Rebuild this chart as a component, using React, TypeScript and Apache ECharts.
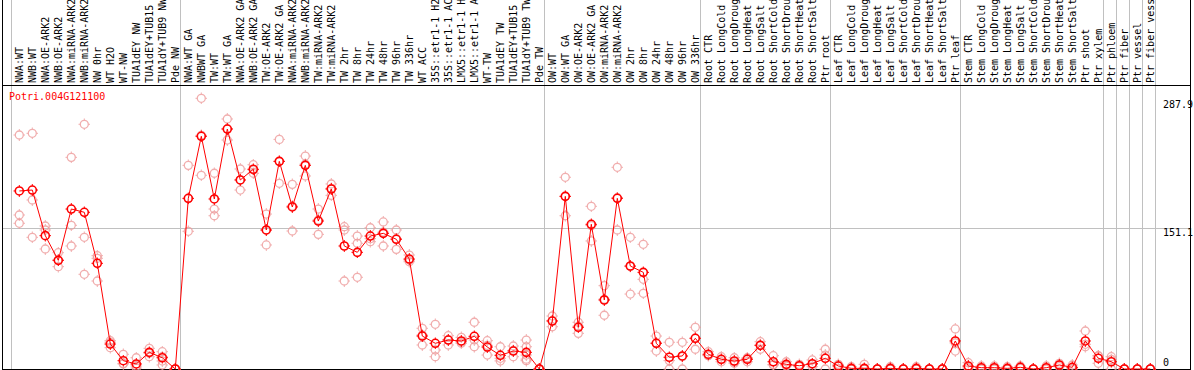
import React, { useEffect, useRef } from "react";
import * as echarts from "echarts";

const geneId = "Potri.004G121100";

const categories = [
  "NWA:WT", "NWB:WT", "NWA:OE-ARK2", "NWB:OE-ARK2", "NWA:miRNA-ARK2", "NWB:miRNA-ARK2", "NW 0hr", "WT H2O", "WT-NW", "TUA1dEY NW", "TUA1dEY+TUB15 NW", "TUA1dY+TUB9 NW", "Pde NW",
  "NWA:WT GA", "NWBWT GA", "TW:WT", "TW:WT GA", "NWA:OE-ARK2 GA", "NWB:OE-ARK2 GA", "TW:OE-ARK2", "TW:OE-ARK2 GA", "NWA:miRNA-ARK2 GA", "NWB:miRNA-ARK2 GA", "TW:miRNA-ARK2", "TW:miRNA-ARK2 GA",
  "TW 2hr", "TW 8hr", "TW 24hr", "TW 48hr", "TW 96hr", "TW 336hr", "WT ACC", "35S::etr1-1 H2O", "35S::etr1-1 ACC", "LMX5::etr1-1 H2O", "LMX5::etr1-1 ACC", "WT-TW", "TUA1dEY TW", "TUA1dEY+TUB15 TW", "TUA1dY+TUB9 TW", "Pde TW",
  "OW:WT", "OW:WT GA", "OW:OE-ARK2", "OW:OE-ARK2 GA", "OW:miRNA-ARK2", "OW:miRNA-ARK2 GA", "OW 2hr", "OW 8hr", "OW 24hr", "OW 48hr", "OW 96hr", "OW 336hr",
  "Root CTR", "Root LongCold", "Root LongDrought", "Root LongHeat", "Root LongSalt", "Root ShortCold", "Root ShortDrought", "Root ShortHeat", "Root ShortSalt", "Ptr root",
  "Leaf CTR", "Leaf LongCold", "Leaf LongDrought", "Leaf LongHeat", "Leaf LongSalt", "Leaf ShortCold", "Leaf ShortDrought", "Leaf ShortHeat", "Leaf ShortSalt", "Ptr leaf",
  "Stem CTR", "Stem LongCold", "Stem LongDrought", "Stem LongHeat", "Stem LongSalt", "Stem ShortCold", "Stem ShortDrought", "Stem ShortHeat", "Stem ShortSalt", "Ptr shoot", "Ptr xylem",
  "Ptr phloem", "Ptr fiber", "Ptr vessel", "Ptr fiber vessel",
];

const meanValues = [
  191.2, 192.2, 143.2, 116.7, 171.8, 168.3, 113.5, 26.8, 8.9, 5.4, 17.9, 12.1, 0,
  183.3, 249.9, 182.6, 257.7, 203, 214.5, 149.3, 223, 174, 218.7, 158.9, 193.3,
  132.1, 125.3, 142.8, 145.7, 139.3, 118.1, 35.4, 27.6, 31.1, 30.1, 35.1, 23.6, 14.7, 19.3, 17.9, 0,
  51.5, 185.4, 44.8, 155.4, 74.1, 183.3, 110.6, 103.8, 27.6, 12.6, 14, 33,
  15.8, 10.4, 8.6, 10.4, 25.4, 7.8, 5, 3.5, 5.7, 11.5,
  3.2, 0.7, 0.7, 0, 0.7, 0, 0.7, 0, 0, 30.1,
  3.2, 1.4, 1.4, 0.7, 1.8, 0, 1.4, 4.3, 1.8, 30.1, 11.5,
  7.8, 0, 0, 0,
];

const replicateValues: number[][] = [
  [251.3, 165.4, 156.5], [253.1, 181.5, 141.4], [153.6, 149.3, 128.9], [124.9, 117.1, 109.9],
  [227.3, 154.3, 132.1], [262.8, 141.4, 101.7], [121.7, 118.9, 94.5], [30.4, 28.7, 22.9],
  [15.8, 5.4, 6], [12.1, 3.2, 1], [22.2, 16.9, 13.2], [18.6, 13.2, 8.6, 4.3], [0, 0, 0],
  [218.7, 183, 147.9], [290.7, 251, 208], [210.2, 171.8, 164.6], [268.5, 258, 245.9],
  [214.8, 203, 192.2], [219.4, 214, 210.2], [166.4, 149, 133.2], [246.6, 223, 199.4],
  [198.3, 175, 148.2], [228.7, 220, 207.3], [171.8, 160, 144.6], [198.7, 194, 186.5],
  [152.8, 149.3, 94.5], [142.8, 135, 98.5], [151.7, 140, 136.7], [157.9, 147, 132.1],
  [149.3, 140, 128.5], [122.4, 117, 115.2], [43.7, 36.5, 25.8], [48, 20.4, 13.2],
  [35.8, 31.5, 25.8], [34, 29, 27.6], [50.2, 31.2, 23.9], [30.4, 25.4, 15.0],
  [23.9, 11.5, 8.7], [24.7, 20, 13.2], [31.1, 23.9, 15, 8.9, 10.6], [0, 0, 0],
  [56.9, 52, 45.4], [205.9, 185.5, 164.6], [50.2, 46, 38.3], [174.7, 154, 137.5],
  [89.5, 75, 57.7], [216.6, 184, 149.3], [141.4, 110, 80.5], [133.9, 96.3, 81.3],
  [35.4, 28, 19.3], [28.7, 9, 0], [28.7, 13.3, 0], [44.8, 33, 21.2],
  [18.6, 14.5, 14.3], [13.2, 10.2, 7.8], [12.1, 7.6, 6.1], [12.1, 11.3, 7.8], [29.3, 25.7, 21.2],
  [14.3, 4.8, 4.3], [7.8, 4, 3.2], [5, 3, 2.5], [9.7, 5, 2.5], [21.2, 15, 0],
  [5, 3.9, 0.7], [2.5, 0, 0], [5, 0, 0], [0, 0, 0], [2.5, 0, 0],
  [0, 0, 0], [2.5, 0, 0], [0, 0, 0], [0, 0, 0], [43, 28, 19.3],
  [6.8, 2.1, 0.7], [3.2, 1, 0], [3.2, 1, 0], [2.5, 0, 0], [3.2, 1.5, 0.7],
  [0, 0, 0], [3.2, 1, 0], [6.1, 4.3, 2.5], [4.3, 1.1, 0], [40.8, 26.5, 23.9], [14.3, 14, 6.1],
  [13.2, 10.2, 0], [0, 0, 0], [0, 0, 0], [0, 0, 0],
];

const groupStarts = [0, 13, 41, 53, 63, 73, 84, 85, 86, 87, 88];
const yTickValues = [287.9, 151.1, 0];
const yMax = 305;

const markImage = (color: string, sw: number) =>
  "image://data:image/svg+xml;utf8," +
  encodeURIComponent(
    `<svg xmlns="http://www.w3.org/2000/svg" width="12" height="12" viewBox="0 0 12 12">` +
      `<circle cx="6" cy="6" r="4" fill="none" stroke="${color}" stroke-width="${sw}"/>` +
      `<path d="M6 0V2M6 10V12M0 6H2M10 6H12" stroke="${color}" stroke-width="1" fill="none"/>` +
      `</svg>`
  );
const MONO = '"DejaVu Sans Mono", monospace';

export default function App() {
  const ref = useRef<HTMLDivElement>(null);

  useEffect(() => {
    if (!ref.current) return;
    const chart = echarts.init(ref.current, null, { renderer: "svg" });

    const scatterData: number[][] = [];
    replicateValues.forEach((reps, i) => reps.forEach((v) => scatterData.push([i, v])));

    chart.setOption({
      animation: false,
      grid: { left: 12.8, top: 85, width: 1144, height: 284, containLabel: false, outerBoundsMode: "none" },
      xAxis: {
        type: "category",
        data: categories,
        position: "top",
        boundaryGap: true,
        axisLine: { show: false },
        axisTick: { show: false },
        splitLine: { show: false },
        axisLabel: { interval: 0, rotate: 90, margin: 2, fontFamily: MONO, fontSize: 10, color: "#000" },
      },
      yAxis: { type: "value", min: 0, max: yMax, show: false, splitLine: { show: false } },
      series: [
        {
          type: "scatter",
          data: scatterData,
          symbol: markImage("#ee9a9a", 1.3),
          symbolSize: 12,
          z: 2,
          clip: false,
          silent: true,
        },
        {
          type: "line",
          data: meanValues,
          symbol: markImage("#ff0000", 1.6),
          symbolSize: 12,
          showSymbol: true,
          showAllSymbol: true,
          lineStyle: { color: "#ff0000", width: 1 },
          itemStyle: { color: "#ff0000" },
          z: 3,
          clip: false,
          silent: true,
        },
      ],
    });

    const px = (i: number) => chart.convertToPixel({ xAxisIndex: 0 }, categories[i]) as number;
    const py = (v: number) => chart.convertToPixel({ yAxisIndex: 0 }, v) as number;
    const step = px(1) - px(0);
    const crisp = (v: number) => Math.round(v) + 0.5;

    const elements: any[] = [];
    const gray = "#c0c0c0";
    groupStarts.forEach((b) => {
      const x = b < categories.length ? px(b) - step / 2 - 1.5 : px(categories.length - 1) + step / 2 - 1.5;
      elements.push({
        type: "line", silent: true, z: 0,
        shape: { x1: crisp(x), y1: 0, x2: crisp(x), y2: 370 },
        style: { stroke: gray, lineWidth: 1 },
      });
    });
    const yMid = crisp(py(151.1));
    elements.push({ type: "line", silent: true, z: 0, shape: { x1: 2, y1: yMid, x2: 1190, y2: yMid }, style: { stroke: gray, lineWidth: 1 } });
    const black = "#000";
    const yTop = crisp(py(yMax));
    const yBot = Math.round(py(0)) + 0.5;
    elements.push({ type: "line", silent: true, z: 1, shape: { x1: 2.5, y1: 0, x2: 2.5, y2: 370 }, style: { stroke: black, lineWidth: 1 } });
    elements.push({ type: "line", silent: true, z: 1, shape: { x1: 1190.5, y1: 0, x2: 1190.5, y2: 370 }, style: { stroke: black, lineWidth: 1 } });
    elements.push({ type: "line", silent: true, z: 1, shape: { x1: 2, y1: yTop, x2: 1191, y2: yTop }, style: { stroke: black, lineWidth: 1 } });
    elements.push({ type: "line", silent: true, z: 1, shape: { x1: 2, y1: yBot, x2: 1191, y2: yBot }, style: { stroke: black, lineWidth: 1 } });

    yTickValues.forEach((v) => {
      const y = py(v);
      elements.push({
        type: "text", silent: true, z: 5,
        x: 1163, y: v === 0 ? y - 12 : y - 1,
        style: { text: String(v), fill: "#000", font: `10px ${MONO}`, align: "left", verticalAlign: "top" },
      });
    });

    elements.push({
      type: "text", silent: true, z: 5,
      x: 9, y: 91,
      style: { text: geneId, fill: "#ff0000", font: `10px ${MONO}`, align: "left", verticalAlign: "top" },
    });

    chart.setOption({ graphic: { elements } });

    return () => chart.dispose();
  }, []);

  return <div ref={ref} style={{ position: "fixed", left: 0, top: 0, width: 1194, height: 370, background: "#fff" }} />;
}
